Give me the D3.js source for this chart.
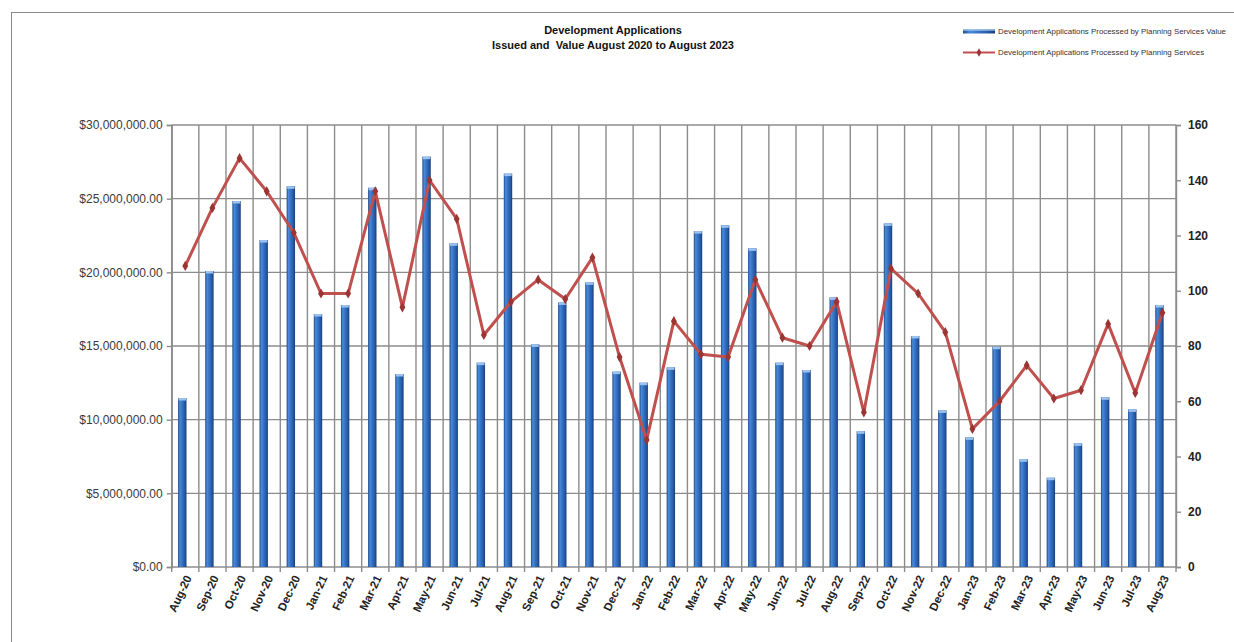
<!DOCTYPE html>
<html>
<head>
<meta charset="utf-8">
<script src="https://cdn.jsdelivr.net/npm/d3@7"></script>
<style>
  html, body { margin: 0; padding: 0; background: #fff; }
  svg { display: block; }
  .title { white-space: pre; }
</style>
</head>
<body>
<svg id="chart" width="1234" height="642"></svg>
<script>
// Monthly development applications: processed value (bars, left axis) and count (line, right axis)
const months = ["Aug-20","Sep-20","Oct-20","Nov-20","Dec-20","Jan-21","Feb-21","Mar-21","Apr-21","May-21","Jun-21","Jul-21",
  "Aug-21","Sep-21","Oct-21","Nov-21","Dec-21","Jan-22","Feb-22","Mar-22","Apr-22","May-22","Jun-22","Jul-22",
  "Aug-22","Sep-22","Oct-22","Nov-22","Dec-22","Jan-23","Feb-23","Mar-23","Apr-23","May-23","Jun-23","Jul-23","Aug-23"];

const processedValue = [11470000, 20090000, 24840000, 22190000, 25840000, 17170000, 17780000, 25740000, 13100000, 27850000,
  21970000, 13870000, 26700000, 15110000, 17960000, 19320000, 13260000, 12510000, 13550000, 22800000, 23190000, 21630000,
  13870000, 13370000, 18300000, 9210000, 23320000, 15680000, 10630000, 8800000, 14950000, 7310000, 6060000, 8390000,
  11520000, 10700000, 17780000];

const processedCount = [109, 130, 148, 136, 121, 99, 99, 136, 94, 140, 126, 84, 96, 104, 97, 112, 76, 46, 89, 77, 76, 104,
  83, 80, 96, 56, 108, 99, 85, 50, 60, 73, 61, 64, 88, 63, 92];

const valueTicks = [0, 5000000, 10000000, 15000000, 20000000, 25000000, 30000000];
const countTicks = [0, 20, 40, 60, 80, 100, 120, 140, 160];

const titleLines = ["Development Applications", "Issued and  Value August 2020 to August 2023"];
const legendLabels = ["Development Applications Processed by Planning Services Value",
  "Development Applications Processed by Planning Services"];

const svg = d3.select("#chart");
const plot = { left: 171.7, right: 1176, top: 125, bottom: 567 };
const font = "'Liberation Sans', Arial, sans-serif";
const gridColor = "#8c8c8c";
const lineColor = "#c0504d";
const markerColor = "#9b3533";

// outer frame
svg.append("rect")
  .attr("x", 11.5).attr("y", 12.5).attr("width", 1240).attr("height", 650)
  .attr("fill", "none").attr("stroke", "#8a8a8a").attr("stroke-width", 1);

const x = d3.scaleBand().domain(months).range([plot.left, plot.right]).padding(0);
const yValue = d3.scaleLinear().domain([0, 30000000]).range([plot.bottom, plot.top]);
const yCount = d3.scaleLinear().domain([0, 160]).range([plot.bottom, plot.top]);

// gradient for the cylinder-style bars
const defs = svg.append("defs");
const grad = defs.append("linearGradient").attr("id", "barGrad").attr("x1", "0").attr("x2", "1").attr("y1", "0").attr("y2", "0");
[["0%", "#1d4a86"], ["22%", "#4a8ad8"], ["45%", "#3675c9"], ["80%", "#2658a3"], ["100%", "#173d72"]]
  .forEach(([o, c]) => grad.append("stop").attr("offset", o).attr("stop-color", c));

// horizontal gridlines
svg.append("g").selectAll("line").data(valueTicks).join("line")
  .attr("x1", plot.left).attr("x2", plot.right)
  .attr("y1", d => yValue(d)).attr("y2", d => yValue(d))
  .attr("stroke", gridColor).attr("stroke-width", 1.4);

// vertical gridlines on category boundaries
const boundaries = months.map(m => x(m)).concat([plot.right]);
svg.append("g").selectAll("line").data(boundaries).join("line")
  .attr("x1", d => d).attr("x2", d => d)
  .attr("y1", plot.top).attr("y2", plot.bottom)
  .attr("stroke", gridColor).attr("stroke-width", 1.4);

// bottom ticks
svg.append("g").selectAll("line").data(boundaries).join("line")
  .attr("x1", d => d).attr("x2", d => d)
  .attr("y1", plot.bottom).attr("y2", plot.bottom + 5)
  .attr("stroke", gridColor).attr("stroke-width", 1.4);

// left axis
const leftAxis = svg.append("g").attr("transform", `translate(${plot.left},0)`)
  .call(d3.axisLeft(yValue).tickValues(valueTicks).tickSize(5).tickPadding(4)
    .tickFormat(d => "$" + d3.format(",.2f")(d)));
leftAxis.select(".domain").attr("stroke", gridColor).attr("stroke-width", 1.4);
leftAxis.selectAll(".tick line").attr("stroke", gridColor).attr("stroke-width", 1.4);
leftAxis.selectAll("text").attr("font-family", font).attr("font-size", 12).attr("fill", "#3a3a3a");

// right axis
const rightAxis = svg.append("g").attr("transform", `translate(${plot.right},0)`)
  .call(d3.axisRight(yCount).tickValues(countTicks).tickSize(5).tickPadding(7));
rightAxis.select(".domain").attr("stroke", gridColor).attr("stroke-width", 1.4);
rightAxis.selectAll(".tick line").attr("stroke", gridColor).attr("stroke-width", 1.4);
rightAxis.selectAll("text").attr("font-family", font).attr("font-size", 12)
  .attr("font-weight", "bold").attr("fill", "#222");

// bars
const barW = x.bandwidth() * 0.31;
const barShift = -3;
const bars = svg.append("g");
bars.selectAll("rect.bar").data(months).join("rect")
  .attr("class", "bar")
  .attr("x", (m) => x(m) + x.bandwidth() / 2 + barShift - barW / 2)
  .attr("y", (m, i) => yValue(processedValue[i]))
  .attr("width", barW)
  .attr("height", (m, i) => plot.bottom - yValue(processedValue[i]))
  .attr("fill", "url(#barGrad)");
bars.selectAll("rect.cap").data(months).join("rect")
  .attr("class", "cap")
  .attr("x", (m) => x(m) + x.bandwidth() / 2 + barShift - barW / 2 + 0.5)
  .attr("y", (m, i) => yValue(processedValue[i]))
  .attr("width", barW - 1)
  .attr("height", 2.5)
  .attr("fill", "#9cc2ef");

// count line with diamond markers
const cx = m => x(m) + x.bandwidth() / 2;
const line = d3.line().x((d, i) => cx(months[i])).y(d => yCount(d));
svg.append("path").datum(processedCount)
  .attr("d", line).attr("fill", "none")
  .attr("stroke", lineColor).attr("stroke-width", 3).attr("stroke-linejoin", "round");

const diamond = d3.symbol().type(d3.symbolDiamond).size(30);
svg.append("g").selectAll("path").data(processedCount).join("path")
  .attr("d", diamond)
  .attr("transform", (d, i) => `translate(${cx(months[i])},${yCount(d)})`)
  .attr("fill", markerColor);

// category labels, rotated
svg.append("g").selectAll("text").data(months).join("text")
  .attr("transform", m => `translate(${cx(m) + 3},${plot.bottom + 9}) rotate(-65)`)
  .attr("text-anchor", "end")
  .attr("dy", "0.35em")
  .attr("font-family", font).attr("font-size", 11.5).attr("font-weight", "bold")
  .attr("fill", "#222")
  .text(m => m);

// title
svg.append("g").selectAll("text").data(titleLines).join("text")
  .attr("class", "title")
  .attr("x", 613).attr("y", (d, i) => 34 + i * 14.5)
  .attr("text-anchor", "middle")
  .attr("font-family", font).attr("font-size", 11).attr("font-weight", "bold")
  .attr("fill", "#111")
  .text(d => d);

// legend
const legend = svg.append("g");
legend.append("rect").attr("x", 963).attr("y", 29.5).attr("width", 32).attr("height", 4).attr("fill", "url(#barGrad)");
legend.append("rect").attr("x", 963).attr("y", 29.5).attr("width", 32).attr("height", 1.2).attr("fill", "#9cc2ef");
legend.append("line").attr("x1", 963).attr("x2", 995).attr("y1", 52.5).attr("y2", 52.5)
  .attr("stroke", lineColor).attr("stroke-width", 2);
legend.append("path").attr("d", d3.symbol().type(d3.symbolDiamond).size(20))
  .attr("transform", "translate(979,52.5)").attr("fill", markerColor);
legend.selectAll("text").data(legendLabels).join("text")
  .attr("x", 998).attr("y", (d, i) => 34 + i * 21)
  .attr("font-family", font).attr("font-size", 7.9).attr("fill", "#333")
  .text(d => d);
</script>
</body>
</html>
